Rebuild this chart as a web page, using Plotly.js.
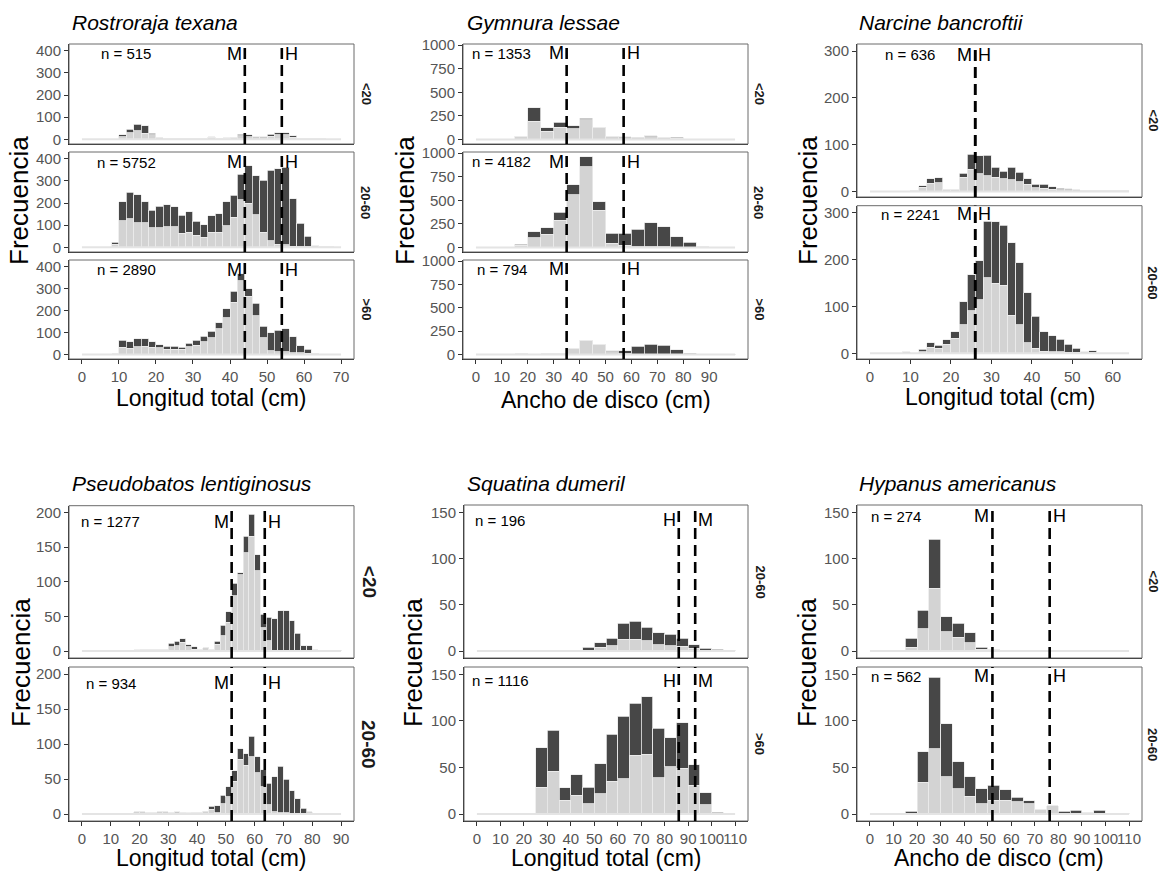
<!DOCTYPE html>
<html><head><meta charset="utf-8">
<script src="https://cdn.plot.ly/plotly-3.0.1.min.js"></script>
<style>body{margin:0;background:#fff}</style>
</head><body><div id="chart" style="width:1161px;height:877px"></div>
<script>
// ================= DATA =================
// Rostroraja texana (bins of 2 cm from 0)
const rtLight_lt20 = [0,0,0,0,0,12,30,39,27,20,8,5,3,3,3,3,4,9,6,5,8,17,12,8,8,15,20,20,9,4,3,2,2,1,1];
const rtDark_lt20  = [0,0,0,0,0,8,15,29,35,7,0,0,0,0,0,0,0,3,0,3,0,7,8,4,4,9,10,10,8,0,0,0,0,0,0];
const rtLight_2060 = [0,0,0,0,14,121,129,112,112,89,89,94,94,64,67,55,45,67,67,97,135,215,200,147,68,30,15,11,6,3,3,3,3,2,1];
const rtDark_2060  = [0,0,0,0,9,85,119,126,93,78,96,98,88,81,94,62,57,75,85,109,100,115,167,177,234,318,340,351,214,106,47,5,0,0,0];
const rtLight_gt60 = [0,0,0,0,3,32,27,35,38,33,30,23,23,23,35,42,57,75,117,167,238,335,265,177,75,17,12,11,8,8,6,3,1,1,1];
const rtDark_gt60  = [0,0,0,0,0,33,30,37,34,24,15,15,13,10,15,23,26,30,27,40,49,33,35,56,54,82,98,106,72,31,17,0,0,0,0];
const rtN = [515, 5752, 2890];
const rtMH = [44, 54];

// Gymnura lessae (bins of 5 cm from 0)
const glLight_lt20 = [0,0,0,35,192,87,132,115,209,129,35,20,17,28,24,15,5,5,5,5];
const glDark_lt20  = [0,0,0,0,146,35,49,31,17,0,0,8,7,14,0,9,0,0,0,0];
const glLight_2060 = [0,0,0,25,103,138,291,557,858,397,43,25,7,7,7,3,3,8,3,3];
const glDark_2060  = [0,0,0,10,64,71,81,106,107,89,106,124,184,255,213,110,50,0,0,0];
const glLight_gt60 = [0,0,3,8,5,8,12,69,152,108,30,10,5,5,3,2,2,3,3,3];
const glDark_gt60  = [0,0,0,0,0,0,0,0,0,0,10,33,85,103,94,48,12,0,0,0];
const glN = [1353, 4182, 794];
const glMH = [35, 57];

// Narcine bancroftii (bins of 2 cm from 0)
const nbLight_lt20 = [0,0,0,0,0,2,9,17,19,5,4,30,47,38,33,30,27,25,21,15,8,7,5,4,3,3,2,2,2,2,1,1];
const nbDark_lt20  = [0,0,0,0,0,0,3,10,10,0,0,9,32,38,44,22,16,27,20,12,7,8,5,3,3,0,0,0,0,0,0,0];
const nbLight_2060 = [0,0,0,0,1,0,3,13,11,20,32,61,91,114,161,150,145,81,61,23,11,5,3,3,2,2,1,1,0,0,0,0];
const nbDark_2060  = [0,0,0,0,3,0,6,10,6,9,14,49,77,84,121,131,128,155,132,106,68,41,35,27,17,9,3,5,0,0,0,0];
const nbN = [636, 2241];
const nbMH = [26, 26];

// Pseudobatos lentiginosus (bins of 2 cm from 0)
const plLight_lt20 = [0,0,0,0,0,0,0,0,0,1,2,2,3,3,3,6,8,13,6,3,3,5,3,10,22,42,80,110,142,166,116,34,15,1,1,1,1,1,0,0,2,1,1,1,1];
const plDark_lt20  = [0,0,0,0,0,0,0,0,0,1,0,0,0,0,0,5,6,5,3,3,0,0,0,4,15,15,18,3,24,32,23,19,34,46,57,57,43,25,8,8,0,0,0,0,0];
const plLight_2060 = [0,0,0,0,0,0,0,0,0,3,3,2,2,3,3,2,2,2,1,2,2,3,7,2,15,25,47,78,70,82,59,39,13,3,2,2,1,1,1,3,1,1,1,0,0];
const plDark_2060  = [0,0,0,0,0,0,0,0,0,0,0,0,0,0,0,0,1,0,1,0,0,1,4,10,12,14,15,15,16,29,23,24,31,50,66,48,32,21,7,0,0,0,0,0,0];
const plN = [1277, 934];
const plMH = [52, 63.5];

// Squatina dumeril (bins of 5 cm from 0)
const sdLight_2060 = [0,0,0,0,1,1,1,1,1,1,4,6,13,13,11,7,6,5,3,1,1,1];
const sdDark_2060  = [0,0,0,0,0,0,0,0,0,3,5,8,17,19,15,13,12,9,4,2,1,0];
const sdLight_gt60 = [0,0,0,0,1,29,46,15,20,11,22,35,38,63,64,39,51,49,31,10,0,0];
const sdDark_gt60  = [0,0,0,0,0,42,44,13,22,18,32,51,67,56,62,53,31,49,22,13,2,0];
const sdN = [196, 1116];
const sdHM = [86, 93];

// Hypanus americanus (bins of 5 cm from 0)
const haLight_lt20 = [0,0,0,4,24,68,21,15,9,2,2,1,0,0,0,0,0,0,0,0,0,0];
const haDark_lt20  = [0,0,0,10,20,53,16,15,11,2,0,0,0,0,0,0,0,0,0,0,0,0];
const haLight_2060 = [0,0,0,1,34,70,40,27,19,11,15,15,13,11,5,9,1,1,2,1,1,0];
const haDark_2060  = [0,0,0,2,33,77,57,29,21,16,16,11,5,3,0,0,2,3,0,3,0,1];
const haN = [274, 562];
const haMH = [52, 76.3];

// ================= LAYOUT CONFIG =================
const W = 1161, H = 877;
const FONT = 'Liberation Sans, Arial, sans-serif';
const LIGHT = '#d3d3d3', DARK = '#474747', EDGE = '#ebebeb';

const panels = [
  {title:'Rostroraja texana', titlePx:[70,23], xPx:[69,354], facets:[[44,144],[152,252],[260,359]],
   xrange:[-3.5,73.5], yrange:[-21,430], xtick:[0,10,20,30,40,50,60,70], ytick:[0,100,200,300,400],
   binStart:0, binWidth:2, strips:['&lt;20','20-60','&gt;60'], stripX:366, stripSize:13,
   data:[[rtLight_lt20,rtDark_lt20],[rtLight_2060,rtDark_2060],[rtLight_gt60,rtDark_gt60]],
   n:rtN, nX:12, labY:[0.905,0.9,0.9],
   lines:[{v:rtMH[0],lab:'M',side:'left'},{v:rtMH[1],lab:'H',side:'right'}],
   xtitle:'Longitud total (cm)', xtitlePx:[211,398], ytitlePx:[19,201]},
  {title:'Gymnura lessae', titlePx:[465,23], xPx:[463,748], facets:[[44,144],[152,252],[260,359]],
   xrange:[-5,105], yrange:[-48,1013], xtick:[0,10,20,30,40,50,60,70,80,90], ytick:[0,250,500,750,1000],
   binStart:0, binWidth:5, strips:['&lt;20','20-60','&gt;60'], stripX:759, stripSize:13,
   data:[[glLight_lt20,glDark_lt20],[glLight_2060,glDark_2060],[glLight_gt60,glDark_gt60]],
   n:glN, nX:10, labY:[0.907,0.905,0.905],
   lines:[{v:glMH[0],lab:'M',side:'left'},{v:glMH[1],lab:'H',side:'right'}],
   xtitle:'Ancho de disco (cm)', xtitlePx:[606,400], ytitlePx:[405,201]},
  {title:'Narcine bancroftii', titlePx:[857,23], xPx:[857,1142], facets:[[44,197],[205.7,359]],
   xrange:[-3.2,67.2], yrange:[-12,315], xtick:[0,10,20,30,40,50,60], ytick:[0,100,200,300],
   binStart:0, binWidth:2, strips:['&lt;20','20-60'], stripX:1153, stripSize:13,
   data:[[nbLight_lt20,nbDark_lt20],[nbLight_2060,nbDark_2060]],
   n:nbN, nX:10, labY:[0.93,0.945],
   lines:[{v:nbMH[0],lab:'M',side:'left'},{v:nbMH[1],lab:'H',side:'right'}],
   xtitle:'Longitud total (cm)', xtitlePx:[1000,397], ytitlePx:[808,201]},
  {title:'Pseudobatos lentiginosus', titlePx:[70,483], xPx:[69,354], facets:[[505.7,658],[667,821]],
   xrange:[-4.5,94.5], yrange:[-10,210], xtick:[0,10,20,30,40,50,60,70,80,90], ytick:[0,50,100,150,200],
   binStart:0, binWidth:2, strips:['&lt;20','20-60'], stripX:369, stripSize:19,
   data:[[plLight_lt20,plDark_lt20],[plLight_2060,plDark_2060]],
   n:plN, nX:10, labY:[0.895,0.896],
   lines:[{v:plMH[0],lab:'M',side:'left'},{v:plMH[1],lab:'H',side:'right'}],
   xtitle:'Longitud total (cm)', xtitlePx:[211,858], ytitlePx:[21,663]},
  {title:'Squatina dumeril', titlePx:[465,483], xPx:[464,748], facets:[[505,658],[667,821]],
   xrange:[-5.5,115.5], yrange:[-7.5,158], xtick:[0,10,20,30,40,50,60,70,80,90,100,110], ytick:[0,50,100,150],
   binStart:0, binWidth:5, strips:['20-60','&gt;60'], stripX:760, stripSize:13,
   data:[[sdLight_2060,sdDark_2060],[sdLight_gt60,sdDark_gt60]],
   n:sdN, nX:10, labY:[0.90,0.91],
   lines:[{v:sdHM[0],lab:'H',side:'left'},{v:sdHM[1],lab:'M',side:'right'}],
   xtitle:'Longitud total (cm)', xtitlePx:[606,858], ytitlePx:[413,663]},
  {title:'Hypanus americanus', titlePx:[857,483], xPx:[857,1142], facets:[[505,658],[667,821]],
   xrange:[-5.5,115.5], yrange:[-7.5,158], xtick:[0,10,20,30,40,50,60,70,80,90,100,110], ytick:[0,50,100,150],
   binStart:0, binWidth:5, strips:['&lt;20','20-60'], stripX:1153, stripSize:13,
   data:[[haLight_lt20,haDark_lt20],[haLight_2060,haDark_2060]],
   n:haN, nX:11, labY:[0.925,0.94],
   lines:[{v:haMH[0],lab:'M',side:'left'},{v:haMH[1],lab:'H',side:'right'}],
   xtitle:'Ancho de disco (cm)', xtitlePx:[999,858], ytitlePx:[807,663]}
];

const traces = [];
const layout = {
  width:W, height:H, margin:{l:0,r:0,t:0,b:0}, showlegend:false,
  barmode:'stack', bargap:0, paper_bgcolor:'#fff', plot_bgcolor:'#fff',
  font:{family:FONT, color:'#000'}, annotations:[], shapes:[]
};

let k = 0;
panels.forEach(p => {
  p.facets.forEach((f, fi) => {
    k++;
    const xa = k === 1 ? 'x' : 'x' + k, ya = k === 1 ? 'y' : 'y' + k;
    const xk = k === 1 ? 'xaxis' : 'xaxis' + k, yk = k === 1 ? 'yaxis' : 'yaxis' + k;
    const L = p.data[fi][0], D = p.data[fi][1];
    const centers = L.map((_, i) => p.binStart + p.binWidth * (i + 0.5));
    traces.push({type:'scatter', mode:'lines', x:[p.binStart, p.binStart + p.binWidth * L.length], y:[0,0],
      xaxis:xa, yaxis:ya, line:{color:'#e4e4e4', width:2}, hoverinfo:'skip'});
    traces.push({type:'bar', x:centers, y:L, width:p.binWidth, xaxis:xa, yaxis:ya,
      marker:{color:LIGHT, line:{color:EDGE, width:0.8}}});
    traces.push({type:'bar', x:centers, y:D, width:p.binWidth, xaxis:xa, yaxis:ya,
      marker:{color:DARK, line:{color:EDGE, width:0.8}}});
    const last = fi === p.facets.length - 1;
    layout[xk] = {domain:[p.xPx[0]/W, p.xPx[1]/W], range:p.xrange, anchor:ya, showgrid:false, zeroline:false,
      showline:true, linecolor:'#222', linewidth:1, ticks:last ? 'outside' : '', ticklen:4, tickcolor:'#333',
      tickvals:p.xtick, ticktext:p.xtick.map(String), showticklabels:last, tickangle:0,
      tickfont:{family:FONT, size:15, color:'#555'}, fixedrange:true};
    layout[yk] = {domain:[1 - f[1]/H, 1 - f[0]/H], range:p.yrange, anchor:xa, showgrid:false, zeroline:false,
      showline:true, linecolor:'#222', linewidth:1, ticks:'outside', ticklen:4, tickcolor:'#333',
      tickvals:p.ytick, ticktext:p.ytick.map(String), tickfont:{family:FONT, size:15, color:'#555'}, fixedrange:true};
    // border
    layout.shapes.push({type:'rect', xref:xa + ' domain', yref:ya + ' domain', x0:0, x1:1, y0:0, y1:1,
      line:{color:'#6a6a6a', width:1}, layer:'above'});
    // dashed lines + labels
    p.lines.forEach(l => {
      layout.shapes.push({type:'line', xref:xa, yref:ya + ' domain', x0:l.v, x1:l.v, y0:0, y1:1,
        line:{color:'#000', width:2.6, dash:'11px,6px'}, layer:'above'});
      layout.annotations.push({xref:xa, yref:ya + ' domain', x:l.v, y:p.labY[fi], text:l.lab, showarrow:false,
        xanchor:l.side === 'left' ? 'right' : 'left', yanchor:'middle', xshift:l.side === 'left' ? -1 : 1,
        font:{family:FONT, size:18, color:'#000'}});
    });
    // n label
    layout.annotations.push({xref:xa, yref:ya + ' domain', x:p.nX, y:p.labY[fi], text:'n = ' + p.n[fi],
      showarrow:false, xanchor:'center', yanchor:'middle', font:{family:FONT, size:15, color:'#000'}});
    // strip label
    layout.annotations.push({xref:'paper', yref:ya + ' domain', x:p.stripX/W, y:0.5, text:'<b>' + p.strips[fi] + '</b>',
      showarrow:false, textangle:90, xanchor:'center', yanchor:'middle', font:{family:FONT, size:p.stripSize, color:'#1a1a1a'}});
  });
  // panel title
  layout.annotations.push({xref:'paper', yref:'paper', x:p.titlePx[0]/W, y:1 - p.titlePx[1]/H, text:'<i>' + p.title + '</i>',
    showarrow:false, xanchor:'left', yanchor:'middle', font:{family:FONT, size:21, color:'#000'}});
  // axis titles
  layout.annotations.push({xref:'paper', yref:'paper', x:p.xtitlePx[0]/W, y:1 - p.xtitlePx[1]/H, text:p.xtitle,
    showarrow:false, xanchor:'center', yanchor:'middle', font:{family:FONT, size:23, color:'#000'}});
  layout.annotations.push({xref:'paper', yref:'paper', x:p.ytitlePx[0]/W, y:1 - p.ytitlePx[1]/H, text:'Frecuencia',
    showarrow:false, textangle:-90, xanchor:'center', yanchor:'middle', font:{family:FONT, size:26, color:'#000'}});
});

Plotly.newPlot('chart', traces, layout, {staticPlot:true, displayModeBar:false});
</script>
</body></html>
